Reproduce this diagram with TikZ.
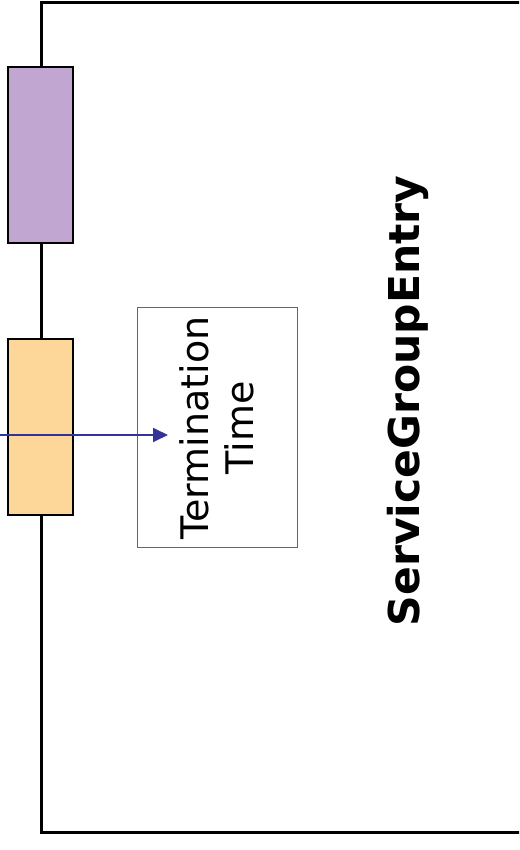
\documentclass[tikz,border=0pt]{standalone}
\usepackage{fontspec}
\setmainfont{DejaVu Sans}
\usetikzlibrary{arrows.meta}
\definecolor{lilac}{RGB}{192,166,209}
\definecolor{peach}{RGB}{253,214,153}
\definecolor{flowblue}{RGB}{51,51,153}
\begin{document}
\begin{tikzpicture}[x=1pt,y=-1pt,>={Triangle[length=15pt,width=14pt]}]
\def\w{65}
\def\h{176}
\useasboundingbox (0,0) rectangle (519,850);
\clip (0,0) rectangle (519,850);
\tikzset{port/.style={draw=black,line width=2.5pt,minimum width=\w pt,minimum height=\h pt,inner sep=0pt}}
\coordinate (nw) at (41,3);
\coordinate (se) at (560,832);
\draw[line width=3pt] (nw) rectangle (se);
\node[port,fill=lilac] (p1) at (40.5,155) {};
\node[port,fill=peach] (p2) at (40.5,427) {};
\node[draw=black!60,line width=1pt,minimum width=160pt,minimum height=240pt,inner sep=0pt] (tbox) at (217,427) {};
\node[rotate=90,align=center,font=\fontsize{38}{45}\selectfont] (ttime) at (217,428) {Termination\\Time};
\node[rotate=90,font=\fontsize{42.5}{50}\selectfont\bfseries] (title) at (408,401) {ServiceGroupEntry};
\coordinate (src) at (-5,435);
\coordinate (dst) at (168,435);
\draw[->,flowblue,line width=1.8pt] (src) -- (dst);
\end{tikzpicture}
\end{document}
